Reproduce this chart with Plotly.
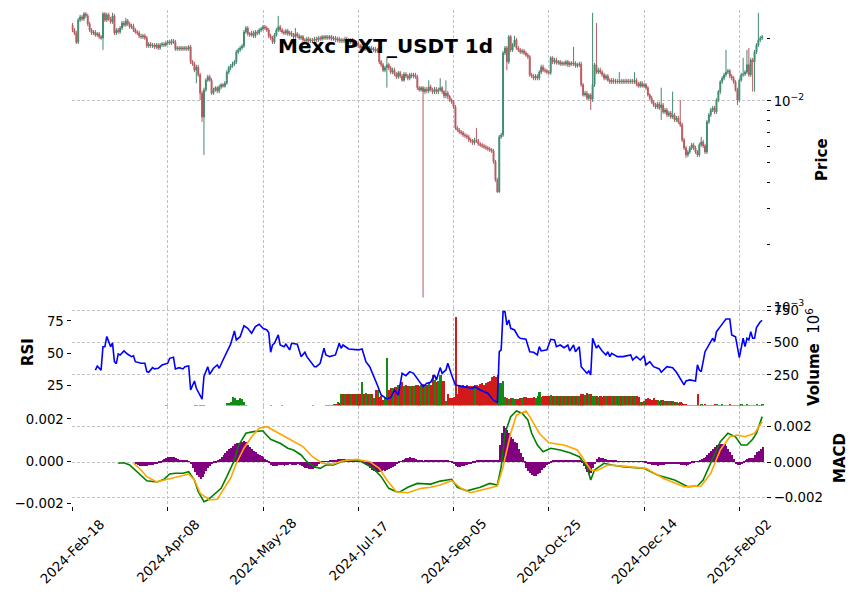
import numpy as np
import pandas as pd
import plotly.graph_objects as go

TITLE = "Mexc PXT_USDT 1d"
START_DATE = "2024-02-18"
PRICE_UNIT = 1e-4   # OHLC lists are in units of 0.0001 USDT
MACD_UNIT = 1e-3    # MACD lists are in units of 0.001

OPEN = [
    234, 221, 214, 193, 247, 256, 250, 265, 259, 237,
    221, 214, 216, 209, 212, 205, 202, 265, 247, 262,
    250, 242, 259, 214, 221, 216, 226, 239, 234, 245,
    237, 229, 231, 221, 216, 214, 207, 205, 207, 202,
    185, 189, 185, 187, 183, 187, 181, 187, 189, 187,
    191, 193, 191, 196, 193, 179, 181, 179, 181, 179,
    181, 179, 183, 155, 151, 141, 146, 134, 109, 83.6,
    113, 126, 131, 126, 109, 113, 116, 112, 117, 120,
    118, 122, 138, 145, 148, 151, 155, 173, 177, 181,
    185, 216, 226, 212, 209, 214, 207, 216, 214, 221,
    224, 229, 226, 221, 207, 202, 193, 209, 221, 229,
    221, 216, 214, 219, 212, 214, 209, 205, 212, 207,
    202, 205, 198, 196, 200, 196, 198, 196, 200, 198,
    202, 200, 205, 202, 205, 202, 205, 200, 202, 198,
    200, 196, 198, 196, 200, 198, 193, 198, 191, 187,
    191, 185, 181, 185, 179, 181, 177, 181, 177, 179,
    175, 177, 155, 150, 141, 145, 150, 145, 138, 141,
    135, 131, 137, 132, 126, 135, 132, 129, 134, 132,
    134, 131, 116, 113, 116, 111, 114, 112, 117, 113,
    111, 114, 111, 113, 116, 111, 106, 109, 105, 101,
    98.9, 93.5, 74.0, 72.3, 70.8, 70.0, 68.4, 67.7, 66.9, 64.7,
    64.0, 62.6, 64.7, 64.0, 61.9, 61.2, 60.5, 59.8, 59.1, 58.5,
    57.8, 57.2, 50.6, 41.4, 36.2, 66.9, 68.4, 171, 181, 155,
    205, 177, 187, 198, 181, 177, 173, 175, 171, 167,
    164, 134, 132, 129, 132, 129, 138, 146, 141, 140,
    138, 137, 162, 155, 158, 153, 155, 151, 153, 151,
    155, 150, 153, 151, 153, 148, 150, 151, 120, 107,
    109, 103, 107, 102, 120, 150, 138, 141, 138, 134,
    129, 132, 126, 124, 126, 124, 125, 124, 125, 124,
    125, 124, 125, 124, 125, 124, 126, 121, 118, 122,
    118, 120, 116, 107, 103, 98.9, 95.6, 93.5, 96.7, 92.5,
    95.6, 88.4, 90.4, 85.5, 87.5, 83.6, 85.5, 80.9, 82.7, 79.1,
    76.5, 64.7, 59.1, 54.7, 56.5, 59.1, 61.2, 59.1, 56.5, 54.7,
    61.2, 63.2, 60.5, 56.5, 79.1, 85.5, 90.4, 92.5, 88.4, 101,
    111, 124, 129, 134, 138, 140, 132, 129, 124, 113,
    101, 126, 134, 135, 138, 150, 134, 158, 155, 173,
    187, 198, 202,
]
HIGH = [
    239, 226, 219, 253, 262, 262, 270, 270, 265, 242,
    226, 221, 221, 216, 216, 209, 270, 270, 268, 268,
    256, 268, 265, 226, 226, 231, 245, 245, 253, 250,
    242, 237, 237, 226, 221, 219, 212, 212, 212, 207,
    193, 193, 191, 191, 191, 191, 191, 193, 193, 196,
    198, 198, 200, 200, 198, 185, 185, 185, 185, 185,
    185, 187, 187, 158, 155, 150, 150, 137, 112, 116,
    129, 134, 134, 129, 116, 118, 118, 120, 122, 122,
    125, 141, 148, 151, 155, 158, 177, 181, 185, 189,
    221, 231, 231, 216, 219, 219, 221, 221, 226, 229,
    234, 234, 231, 226, 212, 207, 214, 226, 259, 234,
    226, 221, 224, 224, 219, 219, 214, 226, 216, 212,
    209, 209, 202, 205, 205, 202, 202, 205, 205, 207,
    207, 209, 209, 209, 209, 209, 209, 207, 207, 205,
    205, 202, 202, 205, 205, 202, 202, 202, 196, 196,
    196, 189, 189, 189, 185, 185, 185, 185, 183, 183,
    181, 181, 158, 153, 148, 164, 153, 148, 145, 145,
    138, 140, 140, 135, 138, 138, 135, 137, 137, 137,
    137, 134, 118, 118, 118, 117, 117, 126, 120, 116,
    117, 117, 116, 129, 118, 113, 126, 112, 107, 103,
    101, 95.6, 75.7, 74.0, 72.3, 71.5, 70.0, 69.2, 68.4, 66.2,
    65.4, 66.2, 74.0, 65.4, 63.2, 62.6, 61.9, 61.2, 60.5, 59.8,
    59.1, 58.5, 51.7, 42.3, 68.4, 70.0, 175, 185, 185, 209,
    209, 191, 207, 202, 185, 181, 179, 179, 175, 171,
    167, 137, 135, 135, 135, 141, 150, 150, 145, 143,
    141, 165, 165, 162, 162, 158, 158, 156, 156, 158,
    158, 156, 156, 183, 156, 153, 155, 155, 122, 112,
    112, 109, 109, 268, 153, 239, 145, 145, 141, 137,
    135, 135, 129, 129, 129, 128, 128, 138, 128, 128,
    128, 128, 128, 128, 128, 138, 129, 124, 125, 125,
    122, 122, 118, 109, 106, 101, 97.8, 98.9, 98.9, 116,
    97.8, 92.5, 92.5, 89.4, 89.4, 111, 87.5, 84.6, 84.6, 101,
    78.2, 66.2, 60.5, 57.8, 60.5, 62.6, 62.6, 60.5, 57.8, 62.6,
    66.9, 64.7, 61.9, 80.9, 87.5, 92.5, 94.6, 94.6, 103, 113,
    126, 132, 137, 177, 143, 143, 135, 132, 126, 116,
    129, 137, 162, 141, 177, 181, 162, 162, 177, 191,
    268, 207, 209,
]
LOW = [
    216, 209, 189, 189, 242, 245, 245, 253, 231, 216,
    209, 209, 205, 205, 200, 198, 177, 242, 242, 245,
    237, 237, 209, 209, 212, 212, 221, 229, 229, 231,
    224, 224, 216, 212, 209, 202, 200, 200, 198, 181,
    181, 181, 181, 179, 179, 177, 177, 183, 183, 183,
    187, 187, 187, 189, 175, 175, 175, 175, 175, 175,
    175, 175, 151, 148, 138, 122, 131, 101, 79.1, 54.7,
    111, 124, 124, 107, 107, 111, 109, 109, 114, 116,
    116, 120, 135, 141, 145, 148, 151, 169, 173, 177,
    181, 212, 207, 205, 205, 202, 202, 209, 209, 216,
    219, 221, 216, 202, 198, 189, 189, 205, 216, 216,
    212, 209, 209, 207, 207, 205, 200, 200, 202, 198,
    198, 193, 191, 191, 191, 191, 191, 191, 193, 193,
    196, 196, 198, 198, 198, 198, 196, 196, 193, 193,
    191, 191, 191, 191, 193, 189, 189, 187, 183, 183,
    181, 177, 177, 175, 175, 173, 173, 173, 173, 171,
    171, 151, 146, 138, 138, 116, 141, 135, 135, 132,
    128, 128, 129, 124, 124, 129, 126, 126, 129, 129,
    128, 113, 111, 111, 11.1, 108, 109, 109, 111, 108,
    108, 108, 108, 111, 108, 103, 103, 102, 98.9, 96.7,
    91.4, 72.3, 70.8, 69.2, 68.4, 66.9, 66.2, 65.4, 63.2, 62.6,
    61.2, 61.2, 62.6, 60.5, 59.8, 59.1, 58.5, 57.8, 57.2, 56.5,
    55.9, 49.5, 40.5, 35.8, 35.8, 65.4, 66.9, 167, 141, 151,
    173, 173, 183, 177, 173, 169, 169, 167, 164, 160,
    131, 129, 126, 126, 126, 126, 135, 138, 137, 135,
    134, 134, 151, 151, 150, 150, 148, 148, 148, 148,
    146, 146, 148, 148, 145, 145, 146, 117, 105, 105,
    101, 101, 90.4, 98.9, 117, 135, 135, 135, 131, 126,
    126, 124, 121, 121, 121, 121, 121, 121, 121, 121,
    121, 121, 121, 121, 121, 121, 118, 116, 116, 116,
    116, 113, 105, 101, 96.7, 93.5, 91.4, 91.4, 90.4, 80.9,
    86.5, 86.5, 83.6, 83.6, 81.8, 81.8, 79.1, 79.1, 77.4, 74.8,
    63.2, 57.8, 52.9, 53.5, 55.3, 57.8, 57.8, 55.3, 53.5, 53.5,
    59.8, 59.1, 55.3, 55.3, 77.4, 83.6, 88.4, 86.5, 86.5, 98.9,
    108, 121, 126, 131, 135, 129, 126, 121, 111, 95.6,
    98.9, 124, 131, 132, 135, 131, 131, 111, 111, 169,
    183, 193, 198,
]
CLOSE = [
    221, 214, 193, 247, 256, 250, 265, 259, 237, 221,
    214, 216, 209, 212, 205, 202, 265, 247, 262, 250,
    242, 259, 214, 221, 216, 226, 239, 234, 245, 237,
    229, 231, 221, 216, 214, 207, 205, 207, 202, 185,
    189, 185, 187, 183, 187, 181, 187, 189, 187, 191,
    193, 191, 196, 193, 179, 181, 179, 181, 179, 181,
    179, 183, 155, 151, 141, 146, 134, 109, 83.6, 113,
    126, 131, 126, 109, 113, 116, 112, 117, 120, 118,
    122, 138, 145, 148, 151, 155, 173, 177, 181, 185,
    216, 226, 212, 209, 214, 207, 216, 214, 221, 224,
    229, 226, 221, 207, 202, 193, 209, 221, 229, 221,
    216, 214, 219, 212, 214, 209, 205, 212, 207, 202,
    205, 198, 196, 200, 196, 198, 196, 200, 198, 202,
    200, 205, 202, 205, 202, 205, 200, 202, 198, 200,
    196, 198, 196, 200, 198, 193, 198, 191, 187, 191,
    185, 181, 185, 179, 181, 177, 181, 177, 179, 175,
    177, 155, 150, 141, 145, 150, 145, 138, 141, 135,
    131, 137, 132, 126, 135, 132, 129, 134, 132, 134,
    131, 116, 113, 116, 111, 114, 112, 117, 113, 111,
    114, 111, 113, 116, 111, 106, 109, 105, 101, 98.9,
    93.5, 74.0, 72.3, 70.8, 70.0, 68.4, 67.7, 66.9, 64.7, 64.0,
    62.6, 64.7, 64.0, 61.9, 61.2, 60.5, 59.8, 59.1, 58.5, 57.8,
    57.2, 50.6, 41.4, 36.2, 66.9, 68.4, 171, 181, 155, 205,
    177, 187, 198, 181, 177, 173, 175, 171, 167, 164,
    134, 132, 129, 132, 129, 138, 146, 141, 140, 138,
    137, 162, 155, 158, 153, 155, 151, 153, 151, 155,
    150, 153, 151, 153, 148, 150, 151, 120, 107, 109,
    103, 107, 102, 120, 150, 138, 141, 138, 134, 129,
    132, 126, 124, 126, 124, 125, 124, 125, 124, 125,
    124, 125, 124, 125, 124, 126, 121, 118, 122, 118,
    120, 116, 107, 103, 98.9, 95.6, 93.5, 96.7, 92.5, 95.6,
    88.4, 90.4, 85.5, 87.5, 83.6, 85.5, 80.9, 82.7, 79.1, 76.5,
    64.7, 59.1, 54.7, 56.5, 59.1, 61.2, 59.1, 56.5, 54.7, 61.2,
    63.2, 60.5, 56.5, 79.1, 85.5, 90.4, 92.5, 88.4, 101, 111,
    124, 129, 134, 138, 140, 132, 129, 124, 113, 101,
    126, 134, 135, 138, 150, 134, 158, 155, 173, 187,
    198, 202, 205,
]
# volume in millions (axis shows x10^6)
VOLUME_M = [
    6, 5, 8, 7, 9, 6, 5, 7, 8, 6,
    5, 4, 6, 7, 5, 6, 10, 7, 6, 5,
    6, 7, 8, 5, 6, 4, 7, 6, 5, 6,
    5, 4, 6, 5, 7, 6, 5, 4, 6, 8,
    6, 5, 4, 6, 5, 7, 6, 5, 4, 18,
    6, 5, 7, 6, 8, 5, 6, 4, 5, 6,
    7, 6, 10, 8, 18, 20, 17, 22, 24, 19,
    17, 12, 13, 14, 11, 12, 10, 13, 12, 15,
    15, 35, 40, 45, 82, 75, 57, 60, 72, 65,
    42, 20, 16, 15, 12, 12, 9, 8, 10, 7,
    8, 9, 10, 12, 20, 14, 10, 9, 12, 8,
    18, 6, 8, 9, 7, 6, 8, 7, 6, 9,
    17, 8, 6, 9, 7, 8, 19, 8, 7, 9,
    8, 7, 9, 18, 20, 22, 25, 28, 30, 45,
    40, 108, 105, 110, 108, 106, 108, 105, 110, 104,
    108, 110, 203, 110, 112, 108, 110, 105, 72, 141,
    138, 84, 90, 60, 80, 383, 141, 157, 150, 160,
    160, 178, 170, 203, 170, 178, 165, 170, 165, 170,
    175, 180, 170, 175, 185, 180, 175, 190, 180, 250,
    215, 200, 211, 250, 211, 211, 56, 103, 72, 75,
    80, 700, 110, 172, 170, 175, 165, 180, 172, 168,
    172, 178, 180, 170, 185, 190, 180, 195, 200, 210,
    237, 245, 240, 250, 195, 190, 205, 82, 72, 70,
    75, 72, 70, 68, 70, 75, 72, 82, 80, 78,
    75, 72, 80, 75, 90, 126, 85, 90, 95, 88,
    92, 100, 90, 95, 88, 92, 90, 95, 88, 90,
    92, 88, 90, 92, 90, 95, 88, 108, 110, 100,
    112, 105, 108, 95, 90, 88, 85, 90, 85, 88,
    90, 92, 88, 90, 92, 88, 90, 88, 92, 90,
    88, 92, 90, 88, 90, 95, 90, 85, 48, 45,
    50, 70, 72, 65, 60, 75, 60, 58, 55, 60,
    58, 55, 52, 50, 55, 50, 48, 45, 40, 42,
    35, 30, 28, 25, 22, 25, 20, 22, 108, 24,
    26, 22, 27, 24, 25, 21, 23, 26, 28, 22,
    24, 26, 23, 25, 21, 27, 24, 22, 25, 23,
    21, 26, 24, 23, 27, 22, 25, 24, 23, 26,
    25, 22, 27,
]
RSI_DAY = [
    12, 13, 15, 16, 17, 18, 19, 20, 21, 22,
    23, 24, 25, 27, 29, 31, 32, 33, 36, 38,
    39, 40, 42, 43, 45, 47, 50, 51, 53, 54,
    56, 58, 59, 61, 62, 64, 65, 67, 68, 69,
    71, 72, 74, 76, 77, 79, 81, 83, 85, 86,
    88, 90, 92, 94, 96, 98, 100, 102, 103, 104,
    105, 106, 108, 109, 111, 112, 114, 115, 118, 120,
    122, 123, 127, 128, 130, 132, 133, 135, 138, 140,
    141, 142, 145, 148, 150, 152, 154, 156, 158, 160,
    162, 165, 167, 169, 171, 173, 175, 177, 179, 182,
    184, 186, 188, 190, 191, 193, 194, 196, 197, 199,
    201, 205, 210, 211, 214, 218, 221, 223, 224, 225,
    226, 227, 228, 229, 230, 232, 233, 234, 235, 238,
    240, 242, 244, 245, 246, 249, 251, 253, 254, 256,
    258, 260, 261, 263, 264, 266, 267, 270, 271, 272,
    273, 274, 275, 276, 278, 280, 281, 282, 283, 286,
    289, 293, 294, 296, 298, 300, 301, 303, 305, 308,
    309, 312, 315, 317, 319, 321, 322, 324, 327, 328,
    329, 330, 332, 334, 336, 337, 338, 340, 342, 343,
    345, 346, 348, 349, 350, 352, 353, 354, 355, 356,
    357, 358, 359, 361, 362,
]
RSI_VALUE = [
    37, 40, 37, 55, 55, 63, 59, 55, 58, 43.5,
    42, 49.5, 48.7, 51.8, 49.2, 47.4, 48, 43.5, 42.3, 42.3,
    35.8, 35.3, 38.9, 37.9, 38.4, 40.9, 42.3, 46.1, 46.9, 37.9,
    38.9, 37.9, 39.6, 40.2, 21.6, 28.6, 22.9, 18, 14.5, 32,
    39.6, 33.8, 38.4, 41, 38.4, 44.8, 51.2, 57, 67.2, 60.3,
    62.8, 71.3, 69.3, 65.5, 70.6, 72.4, 69.3, 68, 66, 50.8,
    56.4, 57.7, 64.2, 56.4, 55.1, 57, 52.6, 57.7, 57, 47.4,
    50.8, 47.4, 39.6, 39.6, 42.3, 53.9, 48.7, 47.4, 48.7, 57.7,
    53.9, 56.4, 53.3, 52.6, 52.6, 53.3, 43.5, 39.6, 33.2, 25.5,
    17.7, 14.7, 15.7, 21.6, 17.7, 34.5, 32.7, 35.8, 34.5, 28,
    24.2, 26.8, 27.6, 33.2, 29.4, 38.9, 34.5, 37.1, 42.3, 33.2,
    25.5, 24.2, 22.9, 24.2, 21.6, 19.1, 13.5, 12.1, 51.2, 52.6,
    82.2, 82.2, 71.9, 75.8, 69.3, 68, 65.5, 62.8, 61.6, 60.8,
    51.2, 50.8, 48.7, 55.1, 51.8, 52.6, 60.8, 60.3, 55.1, 56.4,
    54.3, 56.4, 51.8, 56.4, 51.2, 55.1, 39.6, 34.5, 36.3, 33.2,
    61.6, 57, 54, 55.9, 51.8, 48.7, 51.2, 47.4, 50, 47.4,
    47.4, 48.7, 44.8, 47.4, 44.8, 48.1, 41, 43.5, 39.6, 37.9,
    35.3, 39.6, 38.9, 35.3, 30.7, 25.5, 28.6, 29.4, 28.6, 41,
    37.1, 35.8, 51.2, 56.4, 61.6, 59, 66.7, 70.6, 74.4, 76.5,
    76.5, 64.2, 62.8, 55.1, 46.6, 61.6, 55.1, 61.6, 60.3, 66.7,
    61.6, 61.6, 69.8, 74.4, 75.5,
]
MACD_DAY = [
    24, 27, 30, 32, 36, 39, 43, 45, 48, 51,
    54, 58, 61, 64, 66, 69, 71, 74, 78, 81,
    85, 87, 91, 95, 100, 101, 104, 107, 109, 113,
    116, 120, 123, 127, 130, 133, 137, 141, 145, 150,
    154, 158, 162, 166, 170, 172, 176, 181, 188, 193,
    199, 202, 207, 214, 219, 223, 225, 227, 230, 233,
    236, 239, 241, 244, 247, 251, 256, 261, 266, 270,
    272, 274, 279, 283, 289, 300, 307, 316, 323, 328,
    331, 336, 340, 344, 348, 351, 354, 357, 359, 362,
]
MACD_VALUE = [
    -0.07, -0.04, -0.17, -0.36, -0.74, -1.06, -1.12, -1.12, -0.98, -0.68,
    -0.64, -0.64, -0.55, -1.02, -1.68, -2.25, -2.15, -1.87, -1.49, -0.83,
    0.11, 0.91, 1.63, 1.72, 1.77, 1.63, 1.29, 1.15, 1.06, 0.78,
    0.68, 0.40, 0.02, -0.27, -0.36, -0.17, -0.17, 0.02, 0.11, 0.11,
    -0.11, -0.36, -0.83, -1.49, -1.68, -1.68, -1.43, -1.21, -1.25, -1.08,
    -0.98, -1.43, -1.63, -1.43, -1.21, -1.30, -0.27, 1.63, 2.57, 2.89,
    2.76, 2.38, 1.63, 0.96, 0.58, 0.78, 0.68, 0.53, 0.30, -0.27,
    -1.02, -0.45, -0.07, -0.17, -0.27, -0.36, -0.74, -1.02, -1.40, -1.36,
    -1.02, 0.21, 1.15, 1.63, 1.43, 0.96, 0.96, 1.29, 1.63, 2.57,
]
SIGNAL_DAY = [
    32, 36, 39, 44, 50, 55, 61, 64, 67, 72,
    76, 79, 83, 86, 90, 94, 98, 102, 107, 114,
    121, 126, 131, 137, 142, 149, 156, 161, 165, 170,
    176, 183, 188, 193, 199, 204, 209, 216, 223, 226,
    230, 233, 238, 240, 245, 250, 258, 265, 268, 272,
    275, 281, 289, 301, 310, 321, 330, 335, 340, 345,
    349, 353, 358, 362,
]
SIGNAL_VALUE = [
    -0.07, -0.45, -0.83, -1.12, -0.98, -0.83, -0.68, -1.02, -1.77, -2.15,
    -2.11, -1.59, -0.92, -0.07, 0.78, 1.43, 1.91, 2.00, 1.72, 1.29,
    0.87, 0.30, -0.07, -0.11, 0.07, 0.15, 0.02, -0.36, -1.02, -1.68,
    -1.74, -1.49, -1.43, -1.30, -1.06, -1.49, -1.74, -1.55, -1.36, -0.27,
    1.63, 2.66, 2.89, 2.57, 1.63, 1.09, 0.96, 0.68, 0.21, -0.45,
    -0.49, -0.17, -0.23, -0.36, -0.92, -1.40, -1.36, -0.64, 0.68, 1.43,
    1.53, 1.43, 1.63, 2.28,
]
HIST_FIRST_DAY = 33
HIST_VALUE = [
    -0.10, -0.15, -0.20, -0.22, -0.22, -0.20, -0.20, -0.18, -0.17, -0.15,
    -0.12, -0.10, -0.08, -0.05, 0.03, 0.10, 0.18, 0.20, 0.22, 0.22,
    0.20, 0.15, 0.10, 0.08, 0.06, 0.05, 0.04, 0.03, 0.01, -0.10,
    -0.30, -0.50, -0.62, -0.75, -0.82, -0.75, -0.60, -0.45, -0.30, -0.20,
    -0.12, -0.08, -0.03, 0.05, 0.12, 0.20, 0.30, 0.40, 0.50, 0.60,
    0.65, 0.75, 0.85, 0.88, 0.90, 0.92, 0.95, 0.97, 0.92, 0.80,
    0.70, 0.60, 0.50, 0.45, 0.38, 0.32, 0.25, 0.20, 0.12, 0.05,
    -0.05, -0.15, -0.20, -0.22, -0.20, -0.18, -0.15, -0.18, -0.20, -0.17,
    -0.15, -0.12, -0.15, -0.17, -0.15, -0.12, -0.15, -0.20, -0.25, -0.30,
    -0.33, -0.35, -0.35, -0.35, -0.30, -0.20, -0.10, -0.05, 0.01, 0.02,
    0.01, 0.02, 0.03, 0.05, 0.07, 0.08, 0.10, 0.10, 0.12, 0.10,
    0.10, 0.08, 0.08, 0.06, 0.05, 0.04, 0.03, 0.02, 0.00, -0.05,
    -0.10, -0.15, -0.20, -0.30, -0.38, -0.45, -0.50, -0.50, -0.48, -0.45,
    -0.42, -0.45, -0.40, -0.35, -0.30, -0.25, -0.20, -0.12, -0.05, 0.02,
    0.08, 0.12, 0.15, 0.18, 0.20, 0.18, 0.15, 0.12, 0.08, 0.05,
    0.03, 0.02, 0.03, 0.04, 0.05, 0.05, 0.06, 0.05, 0.05, 0.06,
    0.05, 0.05, 0.06, 0.05, 0.04, 0.02, -0.05, -0.10, -0.20, -0.25,
    -0.25, -0.22, -0.20, -0.18, -0.15, -0.12, -0.10, -0.08, -0.05, 0.03,
    0.06, 0.07, 0.08, 0.07, 0.08, 0.07, 0.06, 0.07, 0.06, 0.05,
    0.05, 0.80, 1.34, 1.68, 1.60, 1.50, 1.35, 1.17, 1.05, 0.95,
    0.86, 0.60, 0.40, 0.20, -0.05, -0.30, -0.45, -0.55, -0.62, -0.67,
    -0.67, -0.60, -0.55, -0.40, -0.30, -0.25, -0.15, -0.10, -0.05, 0.03,
    0.04, 0.05, 0.04, 0.05, 0.06, 0.04, 0.05, 0.03, 0.04, 0.05,
    0.04, 0.03, 0.04, 0.03, -0.05, -0.20, -0.35, -0.50, -0.59, -0.55,
    -0.30, -0.10, 0.10, 0.20, 0.18, 0.15, 0.12, 0.10, 0.08, 0.06,
    0.05, 0.04, 0.03, 0.02, 0.01, 0.02, 0.01, -0.01, 0.01, 0.02,
    0.01, -0.01, 0.01, 0.01, -0.01, 0.01, -0.02, -0.03, -0.06, -0.10,
    -0.12, -0.15, -0.17, -0.18, -0.20, -0.18, -0.15, -0.15, -0.12, -0.12,
    -0.10, -0.10, -0.12, -0.12, -0.10, -0.12, -0.15, -0.17, -0.18, -0.20,
    -0.18, -0.12, -0.08, -0.05, -0.02, 0.02, 0.05, 0.10, 0.15, 0.20,
    0.30, 0.40, 0.50, 0.60, 0.70, 0.78, 0.82, 0.85, 0.85, 0.82,
    0.75, 0.60, 0.45, 0.30, 0.12, -0.10, -0.15, -0.15, -0.12, -0.08,
    0.05, 0.12, 0.15, 0.15, 0.18, 0.30, 0.45, 0.50, 0.60, 0.70,
]
X_TICK_LABELS = ["2024-Feb-18", "2024-Apr-08", "2024-May-28", "2024-Jul-17",
                 "2024-Sep-05", "2024-Oct-25", "2024-Dec-14", "2025-Feb-02"]

# ---------------- styling / layout constants ----------------
W, H = 859, 600
FONT = "DejaVu Sans"
UP_C, DOWN_C = "#408a70", "#b8595e"
VOL_UP, VOL_DOWN = "#138a13", "#d11b1b"
GRID = "#c2c2c2"
GRID_DASH = "3px,2px"
PLOT_L, PLOT_R = 71.5, 766.0
P0_TOP, P0_BOT, P1_BOT, P2_BOT = 10.0, 307.5, 405.5, 506.0


def ydom(top, bot):
    return [1 - bot / H, 1 - top / H]


dates = pd.date_range(START_DATE, periods=len(CLOSE), freq="D")
day = pd.Timedelta(days=1)
o = [v * PRICE_UNIT for v in OPEN]
h = [v * PRICE_UNIT for v in HIGH]
l = [v * PRICE_UNIT for v in LOW]
c = [v * PRICE_UNIT for v in CLOSE]
vol_colors = [VOL_UP if cc >= oo else VOL_DOWN for oo, cc in zip(OPEN, CLOSE)]
tick_dates = [pd.to_datetime(s, format="%Y-%b-%d") for s in X_TICK_LABELS]
hist_dates = dates[HIST_FIRST_DAY:HIST_FIRST_DAY + len(HIST_VALUE)]

fig = go.Figure()
fig.add_trace(go.Candlestick(
    x=dates, open=o, high=h, low=l, close=c, xaxis="x", yaxis="y",
    increasing=dict(line=dict(color=UP_C, width=1), fillcolor=UP_C),
    decreasing=dict(line=dict(color=DOWN_C, width=1), fillcolor=DOWN_C),
    whiskerwidth=0, showlegend=False, hoverinfo="skip"))
fig.add_trace(go.Bar(x=dates, y=VOLUME_M, xaxis="x2", yaxis="y2",
                     marker=dict(color=vol_colors, line=dict(width=0)),
                     width=0.85 * 86400000, showlegend=False))
fig.add_trace(go.Scatter(x=dates[RSI_DAY], y=RSI_VALUE, xaxis="x2", yaxis="y3",
                         mode="lines", line=dict(color="#0000ff", width=1.6),
                         showlegend=False))
fig.add_trace(go.Bar(x=hist_dates, y=[v * MACD_UNIT for v in HIST_VALUE],
                     xaxis="x3", yaxis="y4",
                     marker=dict(color="#800080", line=dict(width=0)),
                     width=0.5 * 86400000, showlegend=False))
fig.add_trace(go.Scatter(x=dates[MACD_DAY], y=[v * MACD_UNIT for v in MACD_VALUE],
                         xaxis="x3", yaxis="y5", mode="lines",
                         line=dict(color="#008000", width=1.6), showlegend=False))
fig.add_trace(go.Scatter(x=dates[SIGNAL_DAY], y=[v * MACD_UNIT for v in SIGNAL_VALUE],
                         xaxis="x3", yaxis="y5", mode="lines",
                         line=dict(color="#ffa500", width=1.6), showlegend=False))

xrange = [dates[0] - 0.52 * day, dates[0] + 364 * day]
xdom = [PLOT_L / W, PLOT_R / W]
tickfont = dict(family=FONT, size=13.3, color="black")
common_x = dict(domain=xdom, range=xrange, type="date", showgrid=True,
                gridcolor=GRID, griddash=GRID_DASH, gridwidth=0.8,
                tickvals=tick_dates, showticklabels=False, zeroline=False,
                showline=False, automargin=False)
common_y = dict(zeroline=False, showline=False, ticks="outside", ticklen=4,
                tickcolor="black", tickfont=tickfont, gridcolor=GRID,
                griddash=GRID_DASH, gridwidth=0.8, automargin=False)

price_lo, price_hi = 0.000993, 0.02765
minor_vals = [k * 0.001 for k in range(2, 10)] + [0.02]

fig.update_layout(
    width=W, height=H,
    margin=dict(l=0, r=0, t=0, b=0, pad=0, autoexpand=False),
    paper_bgcolor="white", plot_bgcolor="white", showlegend=False,
    font=dict(family=FONT, color="black"), hovermode=False, bargap=0,
    xaxis=dict(common_x, anchor="y", ticks="", rangeslider=dict(visible=False)),
    xaxis2=dict(common_x, anchor="y2", ticks="", matches="x"),
    xaxis3=dict(common_x, anchor="y4", ticks="outside", ticklen=4,
                tickcolor="black", matches="x"),
    yaxis=dict(common_y, domain=ydom(P0_TOP, P0_BOT), anchor="x", side="right",
               type="log", range=[np.log10(price_lo), np.log10(price_hi)],
               tickvals=[0.001, 0.01],
               ticktext=["10<sup>\u22123</sup>", "10<sup>\u22122</sup>"],
               showgrid=True,
               minor=dict(tickvals=minor_vals, ticks="outside", ticklen=3,
                          tickcolor="black", showgrid=False)),
    yaxis2=dict(common_y, domain=ydom(P0_BOT, P1_BOT), anchor="x2", side="right",
                range=[13.9, 771.8], tickvals=[250, 500, 750], showgrid=True),
    yaxis3=dict(common_y, overlaying="y2", anchor="x2", side="left",
                range=[9.6, 85.4], tickvals=[25, 50, 75], showgrid=False),
    yaxis4=dict(common_y, domain=ydom(P1_BOT, P2_BOT), anchor="x3", side="left",
                range=[-0.00214, 0.00264], tickvals=[-0.002, 0, 0.002],
                ticktext=["\u22120.002", "0.000", "0.002"], showgrid=False),
    yaxis5=dict(common_y, overlaying="y4", anchor="x3", side="right",
                range=[-0.00249, 0.00320], tickvals=[-0.002, 0, 0.002],
                ticktext=["\u22120.002", "0.000", "0.002"], showgrid=True),
)

ann = []
for lbl, d in zip(X_TICK_LABELS, tick_dates):
    ann.append(dict(x=d, xref="x3", y=1 - 551 / H, yref="paper", text=lbl,
                    textangle=-45, showarrow=False, xanchor="center",
                    yanchor="middle", font=tickfont))
label_font = dict(family=FONT, size=15, color="black")


def side_label(text, px, py):
    return dict(x=px / W, y=1 - py / H, xref="paper", yref="paper",
                showarrow=False, text=text, textangle=-90, font=label_font,
                xanchor="center", yanchor="middle")


ann += [
    dict(x=385 / W, y=1 - 46 / H, xref="paper", yref="paper", showarrow=False,
         text="<b>" + TITLE + "</b>", font=dict(family=FONT, size=20, color="black"),
         xanchor="center", yanchor="middle"),
    side_label("<b>Price</b>", 822, 160),
    side_label("<b>Volume</b>\u00a0\u00a010<sup>6</sup>", 813, 357),
    side_label("<b>RSI</b>", 28, 352),
    side_label("<b>MACD</b>", 840, 458),
]
fig.update_layout(annotations=ann)

fig.write_html("out.html")
